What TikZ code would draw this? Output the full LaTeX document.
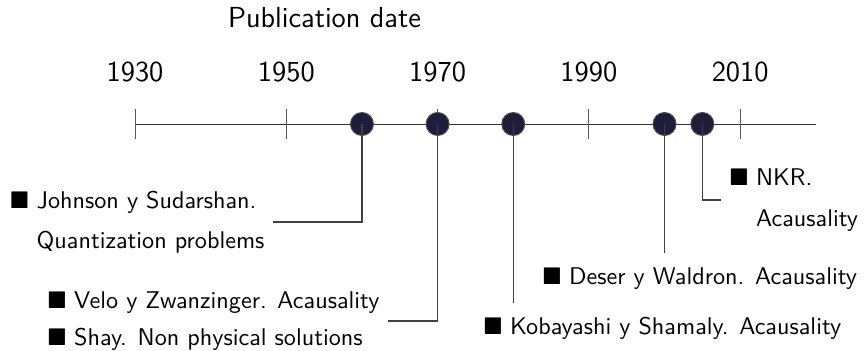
\documentclass[tikz,border=0pt]{standalone}
\usepackage{fontspec}
\usepackage{amssymb}
\usetikzlibrary{calc}
\definecolor{dotblue}{RGB}{30,30,60}
\newcommand\itm{\makebox[1.1em][l]{$\blacksquare$}}

\begin{document}
\begin{tikzpicture}[x=1.1cm,y=1.1cm,font=\sffamily,
    dot/.style={circle,draw=black!70,fill=dotblue,inner sep=0pt,minimum size=0.334cm},
    lbl/.style={align=left},
    conn/.style={black!75,line width=0.5pt}]
  \useasboundingbox (-1.785,-2.997) rectangle (9.637,1.639);
  % axis with the decades
  \draw[black!80] (0,0) -- (9,0);
  \foreach \x/\yr in {0/1930,2/1950,4/1970,6/1990,8/2010} {
    \draw[black!65] (\x,-0.2) -- (\x,0.2);
    \node[anchor=base,font=\sffamily\large] (y\yr) at (\x,0.559) {\yr};
  }
  \node[anchor=base,font=\sffamily\large] (title) at (2.505,1.269) {Publication date};
  % papers
  \foreach \x/\yr in {3/1960,4/1970,5/1980,7/2000,7.5/2005}
    \node[dot] (c\yr) at (\x,0) {};
  \node[lbl,anchor=east] (js) at (1.824,-1.295)
    {\itm Johnson y Sudarshan.\\[4.5pt]\hspace*{1.1em}Quantization problems};
  \node[lbl,anchor=east] (vz) at (3.344,-2.604)
    {\itm Velo y Zwanzinger. Acausality\\[3pt]\itm Shay. Non physical solutions};
  \node[lbl,inner ysep=6pt,anchor=base west] (kb) at (4.494,-2.789)
    {\itm Kobayashi y Shamaly. Acausality};
  \node[lbl,inner ysep=6pt,anchor=base west] (dw) at (5.274,-2.128)
    {\itm Deser y Waldron. Acausality};
  \node[lbl,anchor=west] (nkr) at (7.746,-1.005)
    {\itm NKR.\\[5pt]\hspace*{1.1em}Acausality};
  % connectors
  \draw[conn] (c1960.center) |- (js.east);
  \draw[conn] (c1970.center) |- (vz.east);
  \draw[conn] (c1980.center) -- (c1980 |- kb.north);
  \draw[conn] (c2000.center) -- (c2000 |- dw.north);
  \draw[conn] (c2005.center) |- (nkr.west);
\end{tikzpicture}
\end{document}
